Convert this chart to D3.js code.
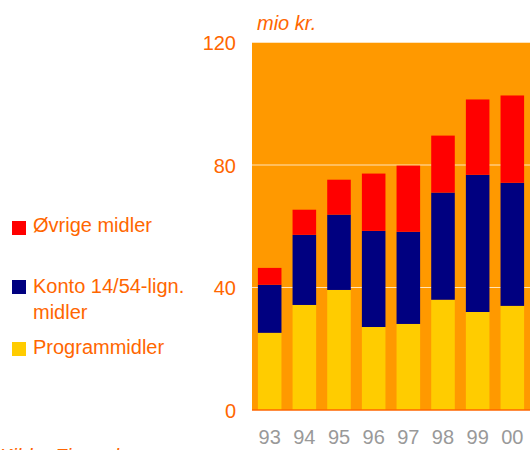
<!DOCTYPE html>
<html><head><meta charset="utf-8">
<script src="https://cdnjs.cloudflare.com/ajax/libs/d3/7.8.5/d3.min.js"></script>
<style>body{margin:0;background:#fff;}svg{display:block;font-family:Arial,"Liberation Sans",sans-serif;}</style>
</head><body><svg id="c" width="530" height="450"></svg>
<script>
const years = ["93","94","95","96","97","98","99","00"];
const programmidler = [25.2, 34.3, 39.2, 27.1, 28.1, 36.0, 32.0, 34.0];
const konto = [15.7, 22.9, 24.6, 31.4, 30.1, 35.0, 44.8, 40.2];
const ovrige = [5.5, 8.2, 11.4, 18.7, 21.6, 18.6, 24.6, 28.5];
const seriesNames = ["Programmidler", "Konto 14/54-lign. midler", "Øvrige midler"];
const yTicks = [0, 40, 80, 120];

const colors = {"Programmidler":"#FFCC00","Konto 14/54-lign. midler":"#000080","Øvrige midler":"#FF0000"};
const orange = "#FF6600";
const svg = d3.select("#c");
const x = d3.scaleBand().domain(years).range([252, 530]).paddingInner(0.32).paddingOuter(0.17);
const y = d3.scaleLinear().domain([0, 120]).range([410, 42.5]);

svg.append("rect").attr("x", 252).attr("y", y(120)).attr("width", 278).attr("height", y(0) - y(120)).attr("fill", "#FF9900");

svg.selectAll("line.grid").data(yTicks.filter(d => d > 0)).enter().append("line")
  .attr("x1", 252).attr("x2", 530).attr("y1", d => y(d)).attr("y2", d => y(d))
  .attr("stroke", "#FFE3B8").attr("stroke-width", 1.2);

const table = years.map((yr, i) => ({year: yr, "Programmidler": programmidler[i], "Konto 14/54-lign. midler": konto[i], "Øvrige midler": ovrige[i]}));
const stack = d3.stack().keys(seriesNames)(table);
svg.selectAll("g.s").data(stack).enter().append("g").attr("fill", d => colors[d.key])
  .selectAll("rect").data(d => d).enter().append("rect")
  .attr("x", d => x(d.data.year)).attr("width", x.bandwidth())
  .attr("y", d => y(d[1])).attr("height", d => y(d[0]) - y(d[1]));

svg.append("line").attr("x1", 252).attr("x2", 530).attr("y1", 410).attr("y2", 410).attr("stroke", orange).attr("stroke-width", 1.5);

const yAxis = d3.axisLeft(y).tickValues(yTicks).tickSize(0).tickPadding(0);
const ga = svg.append("g").attr("transform", "translate(236,0)").call(yAxis);
ga.select(".domain").remove();
ga.selectAll("text").attr("fill", orange).attr("font-size", 20).attr("font-family", "Arial,'Liberation Sans',sans-serif").attr("dy", "0.36em");

const xAxis = d3.axisBottom(x).tickSize(0).tickPadding(0);
const gx = svg.append("g").attr("transform", "translate(0,429)").call(xAxis);
gx.select(".domain").remove();
gx.selectAll("text").attr("fill", "#999999").attr("font-size", 20).attr("font-family", "Arial,'Liberation Sans',sans-serif").attr("dy", "0.75em");

svg.append("text").attr("x", 257).attr("y", 30).attr("fill", orange).attr("font-size", 20).attr("font-style", "italic").text("mio kr.");

const legend = [
  {name: "Øvrige midler", lines: ["Øvrige midler"], sy: 221, by: 232},
  {name: "Konto 14/54-lign. midler", lines: ["Konto 14/54-lign.", "midler"], sy: 280, by: 293},
  {name: "Programmidler", lines: ["Programmidler"], sy: 342, by: 354}
];
const lg = svg.selectAll("g.lg").data(legend).enter().append("g");
lg.append("rect").attr("x", 12).attr("y", d => d.sy).attr("width", 14).attr("height", 14).attr("fill", d => colors[d.name]);
lg.append("text").attr("fill", orange).attr("font-size", 20)
  .selectAll("tspan").data(d => d.lines.map((l, i) => ({l, i, by: d.by}))).enter().append("tspan")
  .attr("x", 33).attr("y", d => d.by + d.i * 26).text(d => d.l);

svg.append("text").attr("x", -1).attr("y", 463).attr("fill", orange).attr("font-size", 20).attr("font-style", "italic").text("Kilde: Finansloven");
</script></body></html>
